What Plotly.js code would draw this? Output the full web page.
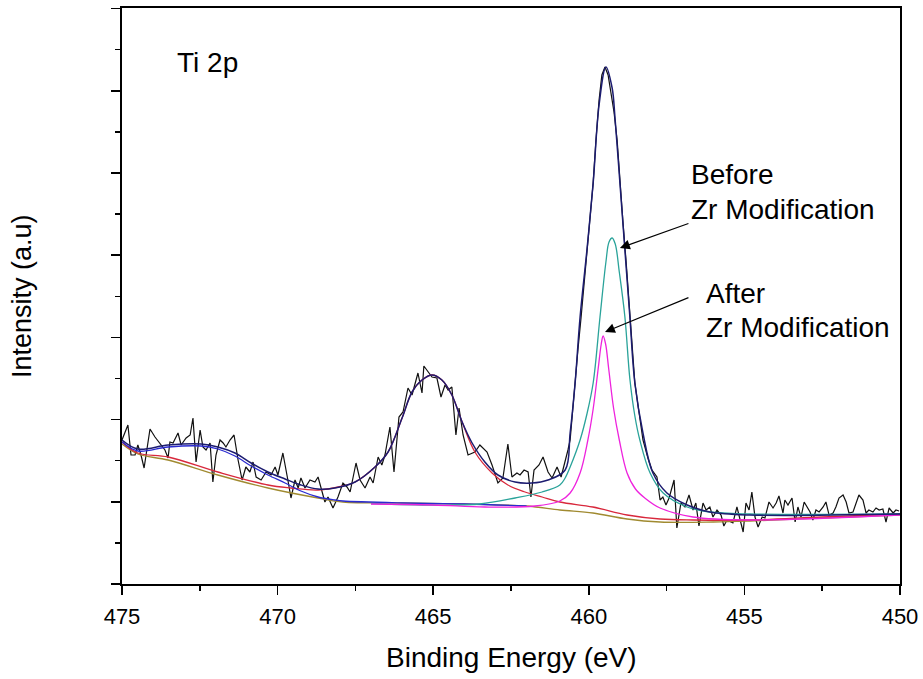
<!DOCTYPE html>
<html>
<head>
<meta charset="utf-8">
<script src="https://cdn.plot.ly/plotly-3.0.1.min.js"></script>
<style>
  html, body { margin: 0; padding: 0; background: #ffffff; }
  #chart { width: 923px; height: 679px; }
</style>
</head>
<body>
<div id="chart"></div>
<script>
// ---- Measured spectrum (Binding energy in eV, intensity in counts) ----
const rawEnergy = [
  475.00,474.81,474.71,474.58,474.49,474.39,474.29,474.10,473.94,473.78,473.62,473.52,473.46,473.36,473.20,473.10,472.94,472.81,472.72,472.62,472.49,472.40,472.30,472.17,472.08,471.98,471.85,471.75,471.66,471.53,471.40,471.27,471.14,471.02,470.89,470.79,470.69,470.53,470.37,470.21,470.08,469.99,469.83,469.67,469.57,469.44,469.34,469.25,469.12,468.96,468.80,468.70,468.61,468.48,468.38,468.22,468.06,467.90,
  467.77,467.67,467.48,467.35,467.19,467.03,466.93,466.77,466.65,466.55,466.39,466.26,466.10,465.97,465.81,465.68,465.49,465.36,465.30,465.17,465.04,464.88,464.75,464.62,464.52,464.40,464.27,464.17,464.04,463.88,463.75,463.66,463.50,463.27,463.11,462.92,462.76,462.60,462.47,462.31,462.21,462.08,461.95,461.86,461.76,461.60,461.47,461.31,461.18,461.02,460.89,460.76,
  460.67,460.60,460.51,460.44,460.35,460.25,460.15,460.06,459.96,459.86,459.77,459.67,459.58,459.48,459.38,459.29,459.19,459.09,459.00,458.90,458.80,458.71,458.61,458.52,458.42,458.32,458.26,458.10,
  457.97,457.81,457.71,457.62,457.52,457.42,457.26,457.17,457.04,456.91,456.78,456.65,456.56,456.46,456.33,456.23,456.11,456.01,455.88,455.75,455.66,455.56,
  455.37,455.24,455.14,455.04,454.95,454.85,454.76,454.66,454.56,454.43,454.34,454.21,454.08,453.98,453.89,453.76,453.70,453.60,453.47,453.37,453.28,453.18,453.08,452.99,452.89,452.80,452.70,452.60,452.47,452.38,452.28,452.15,452.06,451.96,451.83,451.73,451.64,451.51,451.41,451.32,451.19,451.09,451.00,450.87,450.77,450.67,450.55,450.45,450.35,450.22,450.13,450.03
];
const rawIntensity = [
  1440,1590,1290,1290,1390,1290,1160,1550,1470,1410,1340,1260,1420,1410,1510,1390,1460,1490,1660,1220,1540,1370,1340,1410,1020,1290,1440,1410,1370,1440,1490,1240,1040,1170,1120,1220,1070,1040,1120,1090,1170,1090,1310,1040,860,1040,960,1060,960,1040,1020,1070,960,820,870,760,870,1010,
  970,920,1210,1040,960,1070,1010,1270,1190,1290,1570,1120,1670,1720,1960,1890,2110,1910,2180,2120,2070,2060,1870,1990,1940,1970,1490,1760,1490,1290,1310,1320,1390,1320,1190,1010,1060,1400,1070,1110,1090,1140,1120,870,1140,1190,1270,1120,1060,1170,1070,1220,
  1340,1440,1790,1990,2340,2660,2990,3340,3690,4010,4440,4840,5090,5170,5090,4890,4720,4440,4010,3610,3220,2840,2410,2010,1790,1590,1440,1260,
  1140,1070,840,870,790,860,1040,560,810,770,890,740,810,580,810,740,770,670,740,690,580,640,
  610,770,640,520,810,740,920,670,570,670,660,820,760,810,880,710,840,790,860,620,770,670,820,770,720,640,740,720,770,820,690,710,770,860,890,820,710,720,820,890,840,710,740,720,760,740,750,620,760,710,740,730
];

// ---- Fitted envelope (sum of components) ----
const envelopeEnergy = [475.00,474.49,473.52,472.46,471.92,471.37,470.85,470.31,469.76,469.25,468.70,468.16,467.51,466.87,466.45,466.00,465.68,465.36,465.04,464.72,464.40,464.07,463.75,463.34,462.92,462.37,461.83,461.31,460.76,460.60,460.44,460.28,460.06,459.86,459.67,459.45,459.25,459.16,459.00,458.84,458.68,458.52,458.26,457.94,457.49,456.84,456.11,454.82,450.00];
const envelopeIntensity = [1440,1350,1390,1400,1370,1310,1210,1120,1050,990,950,960,1020,1170,1320,1660,1920,2040,2090,2040,1890,1620,1410,1220,1090,1020,1010,1040,1140,1510,2010,2670,3340,4010,4790,5170,4960,4670,4010,3340,2670,2010,1510,1110,910,790,720,690,700];

// ---- Satellite component + background (blue) ----
const satelliteEnergy = [475.00,474.49,473.52,472.46,471.92,471.37,470.85,470.31,469.76,469.25,468.70,468.16,467.90,466.00,464.00,462.00];
const satelliteIntensity = [1420,1330,1370,1380,1350,1280,1180,1090,1010,930,870,840,830,810,800,780];

// ---- Ti 2p1/2 component + background (red) ----
const p12Energy = [475.00,474.49,473.52,471.92,470.31,469.57,468.70,467.90,467.51,466.87,466.45,466.00,465.68,465.36,465.04,464.72,464.40,464.07,463.66,463.11,462.60,462.05,461.50,460.93,459.87,458.77,457.71,456.65,454.82,452.50,450.00];
const p12Intensity = [1420,1310,1270,1120,990,960,940,980,1020,1170,1320,1660,1920,2040,2090,2040,1890,1620,1320,1110,990,920,870,820,770,690,650,640,640,670,700];

// ---- Background (olive) ----
const bgEnergy = [475.00,474.49,473.52,471.92,470.31,468.70,467.90,466.00,464.00,462.00,460.93,459.87,458.77,457.71,456.00,454.82,452.50,450.00];
const bgIntensity = [1400,1300,1240,1090,960,860,820,810,800,780,740,710,650,620,620,630,660,690];

// ---- Ti 2p3/2 before Zr modification (teal) ----
const beforeEnergy = [467.00,465.00,463.50,462.37,461.50,460.93,460.76,460.60,460.28,460.06,459.86,459.64,459.45,459.35,459.25,459.15,459.02,458.84,458.68,458.52,458.36,458.03,457.61,456.84,456.11,454.82,450.00];
const beforeIntensity = [805,790,800,860,920,990,1060,1170,1440,1700,2010,2670,3220,3420,3460,3400,3120,2670,2050,1680,1440,1110,910,770,720,700,700];

// ---- Ti 2p3/2 after Zr modification (magenta) ----
const afterEnergy = [467.00,465.00,463.34,461.73,460.93,460.60,460.28,460.03,459.86,459.70,459.60,459.54,459.46,459.36,459.20,459.02,458.77,458.50,458.20,457.71,456.65,454.82,450.00];
const afterIntensity = [800,790,770,780,830,910,1110,1440,1750,2150,2400,2480,2400,2150,1750,1440,1110,950,860,760,670,640,690];

const xTickValues = [475, 470, 465, 460, 455, 450];
const xTickLabels = ['475', '470', '465', '460', '455', '450'];

const FONT = 'Arial, "Liberation Sans", sans-serif';

function smooth(x, y, color, width) {
  return { x: x, y: y, type: 'scatter', mode: 'lines',
    line: { color: color, width: width || 1.3, shape: 'spline', smoothing: 1 },
    hoverinfo: 'skip', showlegend: false };
}

const traces = [
  { x: rawEnergy, y: rawIntensity, type: 'scatter', mode: 'lines',
    line: { color: '#111111', width: 1.2 }, showlegend: false, hoverinfo: 'skip' },
  smooth(bgEnergy, bgIntensity, '#a08a30'),
  smooth(p12Energy, p12Intensity, '#d8283c'),
  smooth(satelliteEnergy, satelliteIntensity, '#2a2ad0'),
  smooth(beforeEnergy, beforeIntensity, '#2aa39a'),
  smooth(afterEnergy, afterIntensity, '#ee22dd'),
  smooth(envelopeEnergy, envelopeIntensity, '#1c1c70', 1.5)
];

const layout = {
  width: 923, height: 679,
  margin: { l: 122, r: 23, t: 8, b: 95 },
  paper_bgcolor: '#ffffff', plot_bgcolor: '#ffffff',
  font: { family: FONT, color: '#000000' },
  showlegend: false,
  xaxis: {
    range: [475, 450], showgrid: false, zeroline: false,
    showline: true, linecolor: '#000000', linewidth: 2, mirror: true,
    ticks: 'outside', ticklen: 9, tickwidth: 1.5, tickcolor: '#000000',
    tickvals: xTickValues, ticktext: xTickLabels, ticklabelstandoff: 3,
    tickfont: { family: FONT, size: 22, color: '#000000' },
    minor: { dtick: 2.5, tick0: 450, ticks: 'outside', ticklen: 5, tickwidth: 1.5, tickcolor: '#000000' }
  },
  yaxis: {
    range: [0, 5760], showgrid: false, zeroline: false,
    showline: true, linecolor: '#000000', linewidth: 2, mirror: true,
    ticks: 'outside', ticklen: 9, tickwidth: 1.5, tickcolor: '#000000',
    tick0: 0, dtick: 822, showticklabels: false,
    minor: { dtick: 411, tick0: 0, ticks: 'outside', ticklen: 5, tickwidth: 1.5, tickcolor: '#000000' }
  },
  annotations: [
    { xref: 'paper', yref: 'paper', x: 0.5, y: -0.127, text: 'Binding Energy (eV)',
      showarrow: false, xanchor: 'center', yanchor: 'middle', font: { family: FONT, size: 28 } },
    { xref: 'paper', yref: 'paper', x: -0.1285, y: 0.5, text: 'Intensity (a.u)', textangle: -90,
      showarrow: false, xanchor: 'center', yanchor: 'middle', font: { family: FONT, size: 27 } },
    { xref: 'x', yref: 'y', x: 473.30, y: 5220, text: 'Ti 2p', showarrow: false,
      xanchor: 'left', yanchor: 'middle', font: { family: FONT, size: 28 } },
    { xref: 'x', yref: 'y', x: 456.78, y: 4095, text: 'Before', showarrow: false,
      xanchor: 'left', yanchor: 'middle', font: { family: FONT, size: 28 } },
    { xref: 'x', yref: 'y', x: 456.78, y: 3745, text: 'Zr Modification', showarrow: false,
      xanchor: 'left', yanchor: 'middle', font: { family: FONT, size: 28 } },
    { xref: 'x', yref: 'y', x: 456.30, y: 2910, text: 'After', showarrow: false,
      xanchor: 'left', yanchor: 'middle', font: { family: FONT, size: 28 } },
    { xref: 'x', yref: 'y', x: 456.30, y: 2565, text: 'Zr Modification', showarrow: false,
      xanchor: 'left', yanchor: 'middle', font: { family: FONT, size: 28 } },
    { xref: 'x', yref: 'y', x: 459.0, y: 3360, axref: 'x', ayref: 'y', ax: 456.75, ay: 3610,
      text: '', showarrow: true, arrowhead: 2, arrowsize: 1.8, arrowwidth: 1.1, arrowcolor: '#000000' },
    { xref: 'x', yref: 'y', x: 459.48, y: 2520, axref: 'x', ayref: 'y', ax: 456.75, ay: 2870,
      text: '', showarrow: true, arrowhead: 2, arrowsize: 1.8, arrowwidth: 1.1, arrowcolor: '#000000' }
  ]
};

Plotly.newPlot('chart', traces, layout, { staticPlot: true, displayModeBar: false });
</script>
</body>
</html>
